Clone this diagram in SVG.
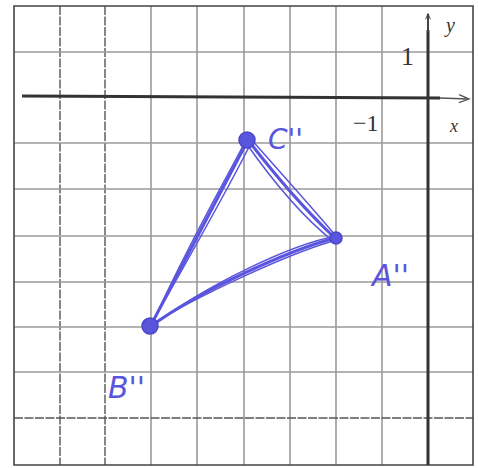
<svg xmlns="http://www.w3.org/2000/svg" width="478" height="468" viewBox="0 0 478 468">
<style>
.g{stroke:#9a9a9a;stroke-width:1.6;fill:none}
.gd{stroke:#555;stroke-width:1.4;fill:none;stroke-dasharray:9 1.5}
.ax{stroke:#333;stroke-width:3;fill:none}
.tri{stroke:#5a55dd;fill:none;stroke-linecap:round;stroke-linejoin:round}
.pt{fill:#5a55dd;stroke:#4a46c8;stroke-width:1.5}
.lab{font-family:"DejaVu Sans",sans-serif;font-style:italic;fill:#5a55dd}
.num{font-family:"Liberation Serif",serif;fill:#333}
</style>
<defs>
<marker id="ar" viewBox="0 0 10 10" refX="9" refY="5" markerWidth="8" markerHeight="6" orient="auto" markerUnits="userSpaceOnUse">
<path d="M0,1 L10,5 L0,9" fill="none" stroke="#444" stroke-width="1.5"/>
</marker>
<marker id="ar2" viewBox="0 0 10 10" refX="9" refY="5" markerWidth="14" markerHeight="10" orient="auto" markerUnits="userSpaceOnUse">
<path d="M0,1 L10,5 L0,9" fill="none" stroke="#555" stroke-width="1.3"/>
</marker>
</defs>
<rect width="478" height="468" fill="#fff"/>
<g id="grid">
<path class="g" d="M151,6V465M197,6V465M244,6V465M290,6V465M336,6V465M382,6V465"/>
<path class="gd" d="M60,6V465M105,6V465"/>
<path class="g" d="M14,52H473M14,143H473M14,189H473M14,236H473M14,282H473M14,327H473M14,372H473"/>
<path class="gd" d="M14,418H473"/>
<path d="M14,6H473V465H14Z" fill="none" stroke="#444" stroke-width="1.6"/>
</g>
<g id="axes">
<path class="ax" d="M22,96 L440,98"/>
<path d="M440,98 L468,99" stroke="#555" stroke-width="1.5" marker-end="url(#ar2)"/>
<path class="ax" d="M428,465 V30"/>
<path d="M428,32 V14" stroke="#444" stroke-width="2" marker-end="url(#ar)"/>
<text class="num" x="446" y="32" font-size="20" font-style="italic">y</text>
<text class="num" x="401" y="65" font-size="26">1</text>
<text class="num" x="353" y="131" font-size="24">−1</text>
<text class="num" x="450" y="132" font-size="18" font-style="italic">x</text>
</g>
<g id="connectors">
<path class="tri" stroke-width="3" d="M248,140 L150,327"/>
<path class="tri" stroke-width="1.5" d="M245,142 C220,190 180,260 152,325"/>
<path class="tri" stroke-width="1.5" d="M251,143 C225,195 185,265 149,328"/>
<path class="tri" stroke-width="3" d="M248,140 C275,175 305,210 335,238"/>
<path class="tri" stroke-width="1.5" d="M250,138 C280,172 310,205 336,236"/>
<path class="tri" stroke-width="1.5" d="M246,143 C272,180 300,215 333,241"/>
<path class="tri" stroke-width="3" d="M335,238 C290,250 200,290 150,327"/>
<path class="tri" stroke-width="1.5" d="M333,241 C285,255 200,295 152,324"/>
<path class="tri" stroke-width="1.5" d="M336,236 C290,245 205,285 148,329"/>
</g>
<g id="C">
<circle class="pt" cx="247" cy="140" r="8"/>
<text class="lab" x="268" y="149" font-size="28">C''</text>
</g>
<g id="A">
<circle class="pt" cx="336" cy="238" r="6"/>
<text class="lab" x="372" y="286" font-size="30">A''</text>
</g>
<g id="B">
<circle class="pt" cx="150" cy="326" r="8"/>
<text class="lab" x="108" y="398" font-size="30">B''</text>
</g>
</svg>
